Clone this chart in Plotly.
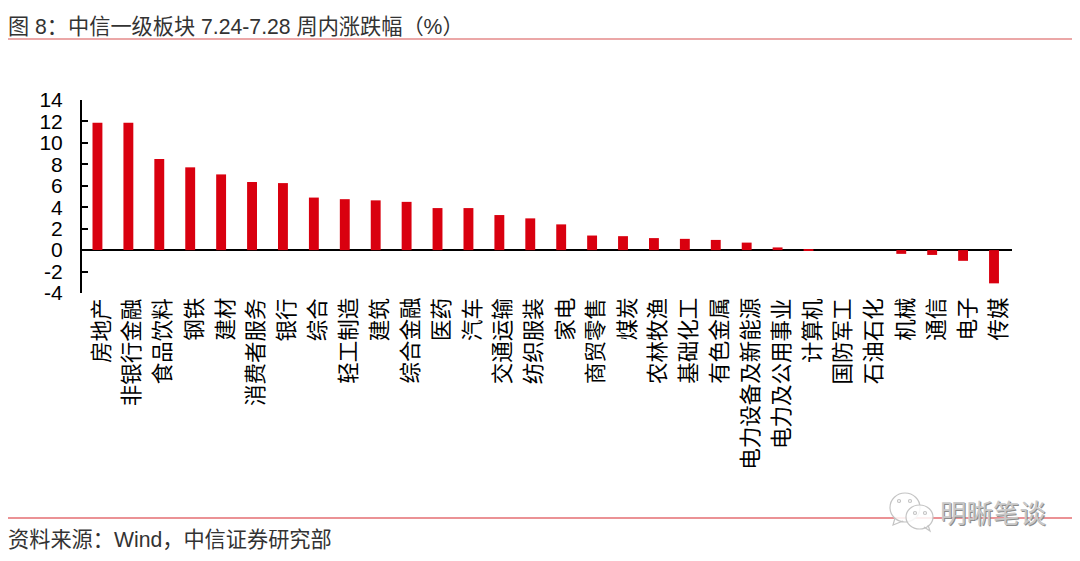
import plotly.graph_objects as go

WIDTH, HEIGHT = 1080, 561
LEFT, RIGHT, TOP, BOTTOM = 82, 1012, 100, 293

categories = ['房地产', '非银行金融', '食品饮料', '钢铁', '建材', '消费者服务', '银行', '综合',
              '轻工制造', '建筑', '综合金融', '医药', '汽车', '交通运输', '纺织服装', '家电',
              '商贸零售', '煤炭', '农林牧渔', '基础化工', '有色金属', '电力设备及新能源',
              '电力及公用事业', '计算机', '国防军工', '石油石化', '机械', '通信', '电子', '传媒']
changes = [11.88, 11.88, 8.5, 7.72, 7.06, 6.35, 6.25, 4.9, 4.75, 4.64, 4.5, 3.92, 3.92, 3.27, 2.96, 2.4,
           1.36, 1.3, 1.12, 1.05, 0.95, 0.7, 0.25, 0.05, 0.0, 0.0, -0.35, -0.45, -1.0, -3.1]
y_ticks = [14, 12, 10, 8, 6, 4, 2, 0, -2, -4]

RED = '#d9000f'
FONT = 'Liberation Sans, Noto Sans CJK SC, sans-serif'


def px(x):
    """Window pixel to paper x."""
    return (x - LEFT) / (RIGHT - LEFT)


def py(y):
    """Window pixel to paper y."""
    return (BOTTOM - y) / (BOTTOM - TOP)


def rule(x0, x1, y, color, width):
    return dict(type='line', xref='paper', yref='paper', x0=px(x0), x1=px(x1), y0=py(y), y1=py(y),
                line=dict(color=color, width=width))


def label(x, y, text, size, color):
    return dict(xref='paper', yref='paper', x=px(x), y=py(y), text=text, showarrow=False,
                xanchor='left', yanchor='middle', font=dict(family=FONT, size=size, color=color))


def bubble(x0, y0, x1, y1, fill='rgba(255,255,255,0.85)'):
    return dict(type='circle', xref='paper', yref='paper', x0=px(x0), x1=px(x1), y0=py(y0), y1=py(y1),
                line=dict(color='#c4c4c4', width=1.2), fillcolor=fill)


def tail(x0, y0, x1, y1, x2, y2):
    path = f'M {px(x0)},{py(y0)} L {px(x1)},{py(y1)} L {px(x2)},{py(y2)}'
    return dict(type='path', xref='paper', yref='paper', path=path, line=dict(color='#c4c4c4', width=1.2))


fig = go.Figure(go.Bar(x=categories, y=changes, marker=dict(color=RED, line=dict(width=0)), width=0.32))

# wechat style watermark sits over the bottom rule
watermark = [
    bubble(890, 493, 920, 522),
    tail(895, 518, 893, 525, 903, 521),
    bubble(906, 505, 933, 529),
    tail(924, 527, 930, 531, 928, 525),
]
for ex, ey in [(899, 501), (910, 501), (915, 513), (925, 513)]:
    watermark.append(bubble(ex - 1.5, ey - 1.5, ex + 1.5, ey + 1.5, 'white'))

# category labels sit a little right of the bars, tick labels can't do that
category_labels = [
    dict(x=name, y=0, xref='x', yref='paper', yshift=-3, xshift=4, text=name, textangle=-90, showarrow=False,
         xanchor='center', yanchor='top', font=dict(family=FONT, size=21.5, color='black'))
    for name in categories
]

fig.update_layout(
    width=WIDTH, height=HEIGHT,
    margin=dict(l=LEFT, r=WIDTH - RIGHT, t=TOP, b=HEIGHT - BOTTOM, pad=0),
    paper_bgcolor='white', plot_bgcolor='white', showlegend=False,
    font=dict(family=FONT, color='black'),
    shapes=[rule(8, 1072, 39, '#e58a8a', 1.3), rule(8, 1072, 518, '#d8262c', 1.2)] + watermark,
    annotations=[
        label(6, 26, '图 8：中信一级板块 7.24-7.28 周内涨跌幅（%）', 21.2, '#333333'),
        label(6, 539, '资料来源：Wind，中信证券研究部', 21.2, '#333333'),
        label(938.7, 514.7, '明晰笔谈', 26.5, '#8c8c8c'),
        label(938, 514, '明晰笔谈', 26.5, '#c8c8c8'),
    ] + category_labels,
)
fig.update_xaxes(
    categoryorder='array', categoryarray=categories, ticks='', showgrid=False,
    showline=False, zeroline=False, showticklabels=False, automargin=False,
)
fig.update_yaxes(
    range=[-4, 14], tickmode='array', tickvals=y_ticks, ticktext=[str(v) for v in y_ticks],
    ticks='inside', ticklen=6, tickwidth=2, tickcolor='black', showline=True, linecolor='black', linewidth=2,
    showgrid=False, zeroline=True, zerolinecolor='black', zerolinewidth=2,
    tickfont=dict(family=FONT, size=21, color='black'), ticklabelstandoff=13, automargin=False,
)

# body margin would push the whole figure 8px off
fig.write_html("out.html", config=dict(displayModeBar=False), post_script="document.body.style.margin='0';")
